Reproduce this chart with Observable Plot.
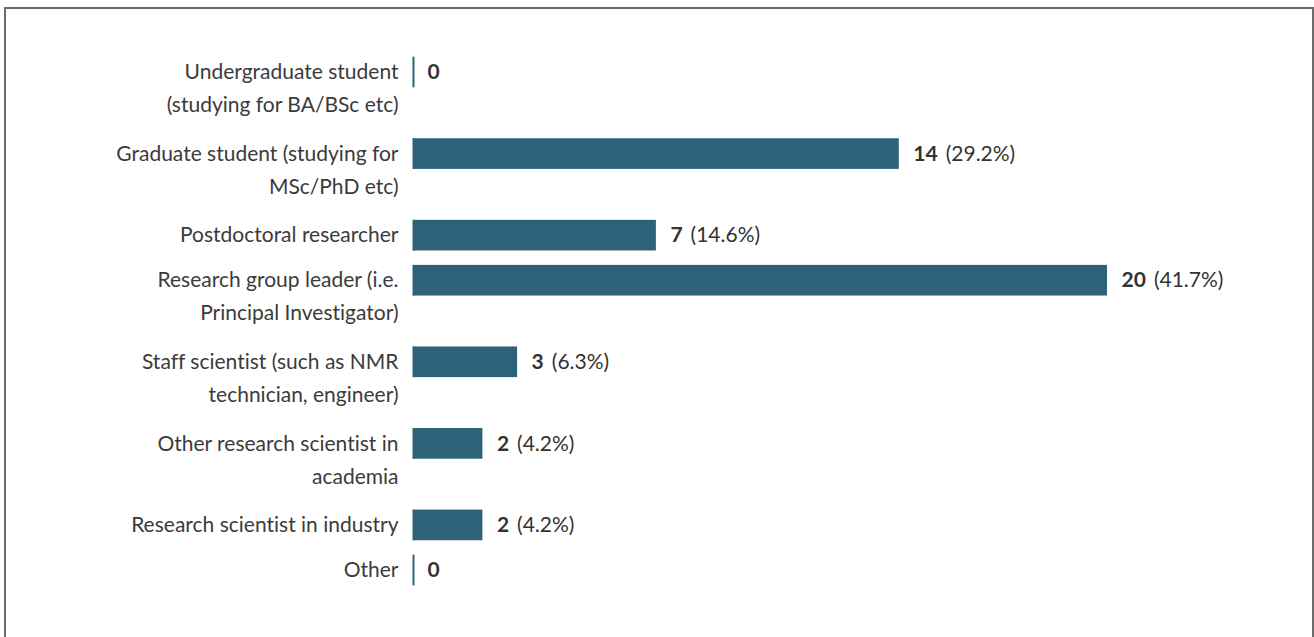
<!DOCTYPE html>
<html><head><meta charset="utf-8">
<script src="https://cdn.jsdelivr.net/npm/d3@7"></script>
<script src="https://cdn.jsdelivr.net/npm/@observablehq/plot@0.6"></script>
<style>
html,body{margin:0;padding:0;background:#fff;overflow:hidden;font-family:Lato,sans-serif;}
#frame{position:absolute;left:4px;top:7px;width:1306px;height:700px;border:2px solid #6b6b6b;box-sizing:content-box;}
#chart{position:absolute;left:0;top:0;}
#chart svg text, #chart svg tspan{font-variant-ligatures:none;font-feature-settings:"liga" 0;}
</style></head><body>
<div id="frame"></div><div id="chart"></div>
<script>
const categories = [
  "Undergraduate student\n(studying for BA/BSc etc)",
  "Graduate student (studying for\nMSc/PhD etc)",
  "Postdoctoral researcher",
  "Research group leader (i.e.\nPrincipal Investigator)",
  "Staff scientist (such as NMR\ntechnician, engineer)",
  "Other research scientist in\nacademia",
  "Research scientist in industry",
  "Other"
];
const counts = [0, 14, 7, 20, 3, 2, 2, 0];
const total = 48;
const barColor = "#2e6279";
const fs = 21;          // font size (px)
const lh = 33 / fs;     // line height (em)

// layout: rows with two-line labels take more vertical room
let acc = 0;
const rows = categories.map((label, i) => {
  const lines = label.split("\n").length;
  const r = {label, count: counts[i], pos: acc};
  acc += lines > 1 ? 1.81 : 1;
  return r;
});
const last = rows[rows.length - 1].pos;
const h = 0.34;

const fmt = d => d.count === 0 ? `${d.count}` : `${d.count}|(${(d.count / total * 100).toFixed(1)}%)`;

const svg = Plot.plot({
  width: 1314, height: 637, margin: 0,
  style: {fontFamily: "Lato, sans-serif", background: "transparent", overflow: "visible"},
  x: {domain: [0, 20], range: [413, 1107], axis: null},
  y: {domain: [0, last], range: [72, 570], axis: null},
  marks: [
    Plot.rectX(rows, {x1: 0, x2: "count", y1: d => d.pos - h, y2: d => d.pos + h, fill: barColor}),
    Plot.ruleX(rows, {x: 0, y1: d => d.pos - h, y2: d => d.pos + h, stroke: barColor, strokeWidth: 2}),
    Plot.text(rows, {x: 0, y: "pos", text: "label", textAnchor: "end", lineAnchor: "top",
      dx: -15, dy: -(lh * 0.71 - 0.32) * fs, lineHeight: lh, fontSize: fs, fill: "#3b3b3b"}),
    Plot.text(rows, {x: "count", y: "pos", text: fmt, textAnchor: "start", dx: 14,
      fontSize: fs, fill: "#333"})
  ]
});
document.getElementById("chart").appendChild(svg);

const groups = d3.select(svg).selectAll('g[aria-label="text"]').nodes();
d3.select(groups[groups.length - 1]).selectAll("text").each(function () {
  const [a, b] = this.textContent.split("|");
  this.textContent = "";
  const s = d3.select(this);
  s.append("tspan").attr("font-weight", "bold").text(a);
  if (b) s.append("tspan").attr("dx", 8).text(b);
});
</script>
</body></html>
